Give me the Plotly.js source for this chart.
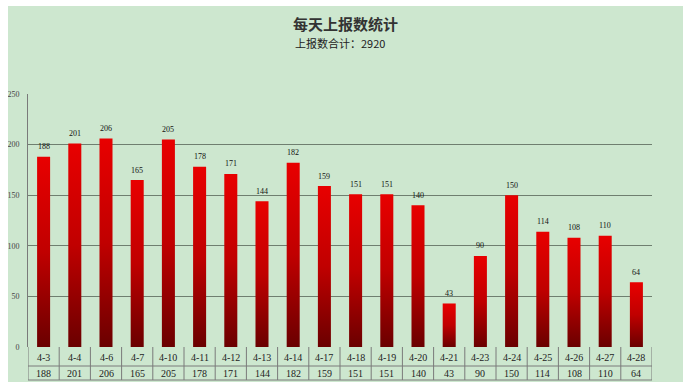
<!DOCTYPE html>
<html><head><meta charset="utf-8">
<script src="https://cdn.plot.ly/plotly-3.0.1.min.js"></script>
<style>
html,body{margin:0;padding:0;background:#fff;width:693px;height:389px;overflow:hidden;}
#chart{position:absolute;left:8px;top:6px;width:675px;height:376px;}
</style></head>
<body><div id="chart"></div>
<script>
const categories = ["4-3","4-4","4-6","4-7","4-10","4-11","4-12","4-13","4-14","4-17","4-18","4-19","4-20","4-21","4-23","4-24","4-25","4-26","4-27","4-28"];
const values = [188,201,206,165,205,178,171,144,182,159,151,151,140,43,90,150,114,108,110,64];
const titleText = "每天上报数统计";
const subtitleLabel = "上报数合计：";

const total = values.reduce((a,b)=>a+b,0);
const bg = '#cde7cf';
const lineCol = '#7a7a7a';
const n = categories.length;
const idx = categories.map((c,i)=>i);
const tableFont = {family:'Liberation Serif, serif', size:10, color:'#222'};

const shapes = [];
const pxLine = (o)=>Object.assign({type:'line', xref:'x', yref:'paper', ysizemode:'pixel', yanchor:0, line:{color:lineCol,width:1}}, o);
// table vertical lines
for (let i=0;i<=n;i++) shapes.push(pxLine({x0:i-0.5, x1:i-0.5, y0:0, y1:-33}));
// horizontal table lines
[-19,-33].forEach(py=>{
  shapes.push(pxLine({x0:-0.5, x1:n-0.5, y0:py, y1:py}));
  shapes.push(pxLine({xsizemode:'pixel', xanchor:-0.5, x0:-13, x1:0, y0:py, y1:py}));
});
// left border of data row
shapes.push(pxLine({xsizemode:'pixel', xanchor:-0.5, x0:-13, x1:-13, y0:-19, y1:-33}));
// legend key
shapes.push({type:'rect', xref:'x', yref:'paper', ysizemode:'pixel', yanchor:0,
  xsizemode:'pixel', xanchor:-0.5, x0:-8, x1:-3, y0:-22, y1:-27, fillcolor:'#c00000', line:{width:0}});

const annotations = [];
categories.forEach((c,i)=>{
  annotations.push({xref:'x', yref:'paper', x:i, y:0, yshift:-10, yanchor:'middle', showarrow:false, text:c, font:tableFont});
  annotations.push({xref:'x', yref:'paper', x:i, y:0, yshift:-26, yanchor:'middle', showarrow:false, text:String(values[i]), font:tableFont});
  annotations.push({xref:'x', yref:'y', x:i, y:values[i], yshift:10, yanchor:'middle', showarrow:false, text:String(values[i]),
    font:{family:'Liberation Serif, serif', size:8, color:'#111'}});
});
annotations.push({xref:'paper', yref:'paper', x:0.5, y:1, yshift:51, yanchor:'middle', showarrow:false,
  text:subtitleLabel+total, font:{family:'Noto Sans CJK SC, sans-serif', size:11, color:'#222'}});

const trace = {
  type:'bar', x:idx, y:values,
  marker:{color:'#c00000', line:{width:0}},
  hoverinfo:'none'
};

const layout = {
  width:675, height:376,
  paper_bgcolor:bg, plot_bgcolor:bg,
  margin:{l:20, r:31, t:88, b:35},
  showlegend:false,
  bargap:0.583,
  title:{text:'<b>'+titleText+'</b>', x:0.5, xanchor:'center', y:1-19/376, yanchor:'middle', yref:'container',
    font:{family:'Noto Sans CJK SC, sans-serif', size:15, color:'#333'}},
  xaxis:{range:[-0.5,n-0.5], showticklabels:false, showgrid:false, zeroline:false, showline:false, ticks:'', fixedrange:true},
  yaxis:{range:[0,250], dtick:50, showgrid:true, gridcolor:'#6f7f70', gridwidth:1, zeroline:false,
    showline:true, linecolor:lineCol, linewidth:1, ticks:'', ticklabelstandoff:6,
    tickfont:{family:'Liberation Serif, serif', size:8, color:'#444'}, fixedrange:true},
  shapes:shapes,
  annotations:annotations
};

Plotly.newPlot('chart',[trace],layout,{staticPlot:true, displayModeBar:false}).then(()=>{
  const svg = document.querySelector('#chart .main-svg');
  const ns = 'http://www.w3.org/2000/svg';
  let defs = svg.querySelector('defs');
  if(!defs){ defs = document.createElementNS(ns,'defs'); svg.insertBefore(defs, svg.firstChild); }
  const g = document.createElementNS(ns,'linearGradient');
  g.setAttribute('id','barGrad'); g.setAttribute('x1','0'); g.setAttribute('y1','0'); g.setAttribute('x2','0'); g.setAttribute('y2','1');
  [['0','#e80000'],['0.5','#c00000'],['1','#6a0000']].forEach(([o,c])=>{
    const s=document.createElementNS(ns,'stop'); s.setAttribute('offset',o); s.setAttribute('stop-color',c); g.appendChild(s);
  });
  defs.appendChild(g);
  document.querySelectorAll('#chart .bars .point path').forEach(p=>{ p.style.fill='url(#barGrad)'; });
});
</script></body></html>
